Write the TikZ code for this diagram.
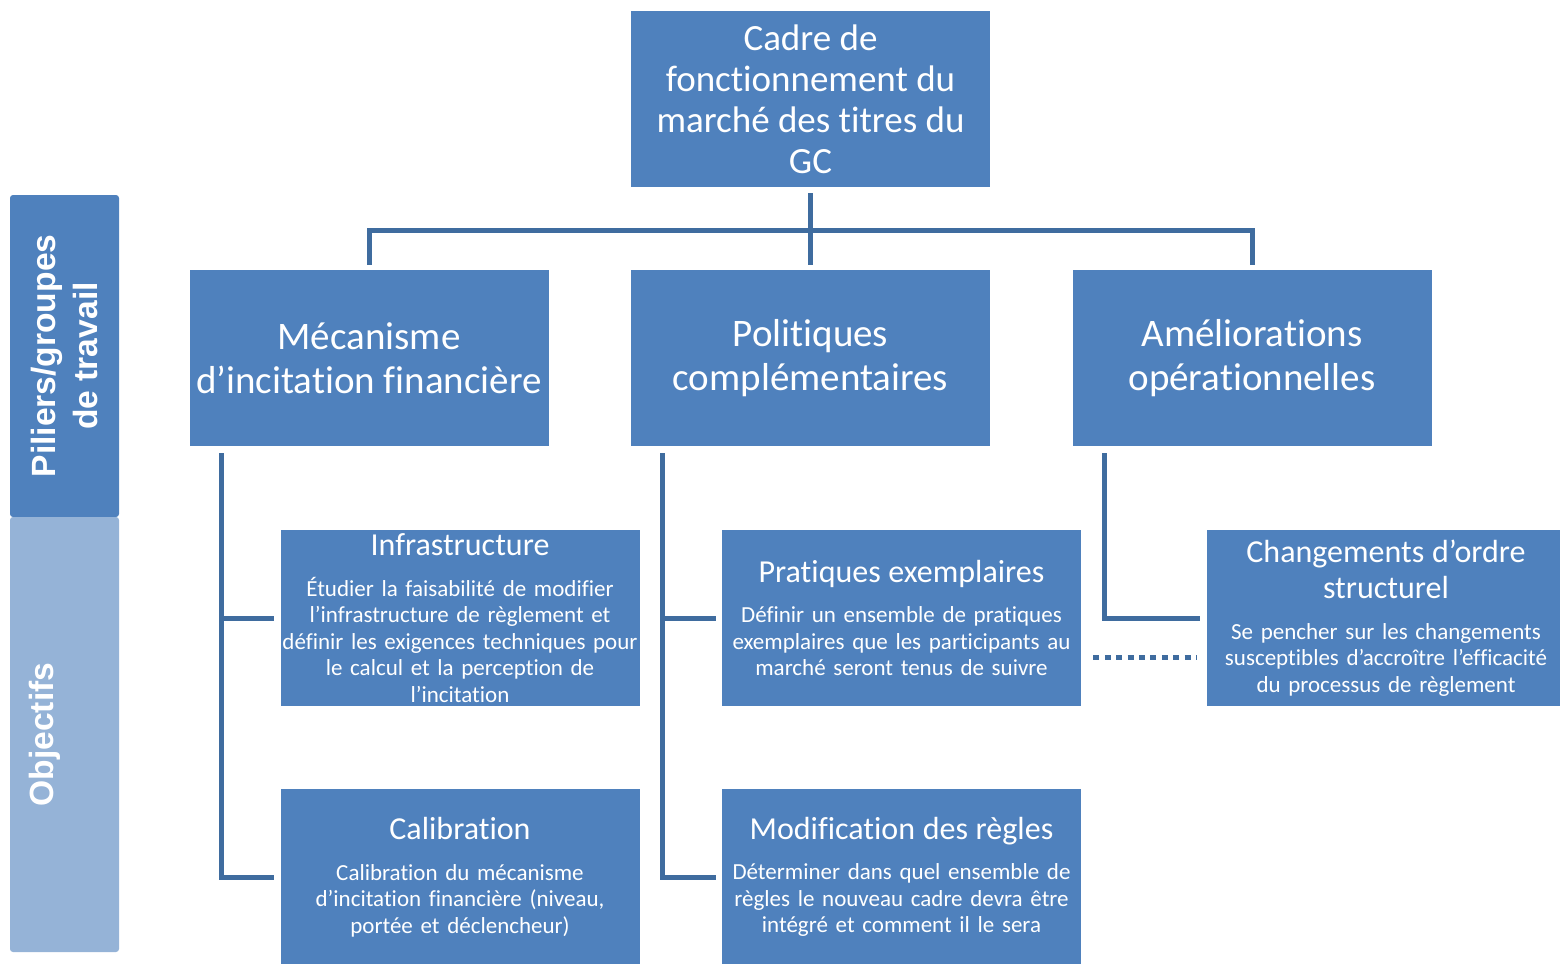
\documentclass[tikz,border=0pt]{standalone}
\usepackage{fontspec}
\setmainfont[Ligatures=NoCommon]{Carlito}
\newfontfamily\sidefont{Liberation Sans}
\usepackage{tikz}
\usetikzlibrary{positioning, calc}

\definecolor{boxblue}{HTML}{4F81BD}
\definecolor{linkblue}{HTML}{3F6C9F}
\definecolor{sidelight}{HTML}{95B3D7}

\tikzset{
  pilier/.style={rectangle, fill=boxblue, text=white, inner sep=0pt,
    minimum width=179.5pt, minimum height=88pt, align=center,
    font=\fontsize{19.5}{22}\selectfont},
  racine/.style={pilier, font=\fontsize{18.5}{20.5}\selectfont},
  objectif/.style={pilier, text width=179.5pt,
    font=\fontsize{11.5}{13.25}\selectfont},
  sidebox/.style={rectangle, rounded corners=1.5pt, inner sep=0pt,
    text=white, align=center,
    font=\sidefont\bfseries\fontsize{16.8}{21}\selectfont},
  conn/.style={draw=linkblue, line width=2.5pt},
  pointille/.style={draw=linkblue, line width=2.5pt, dash pattern=on 3pt off 2.7pt}
}

\newcommand{\objtitre}[1]{{\fontsize{16}{18}\selectfont #1\par}\vspace{7pt}}

\begin{document}
\begin{tikzpicture}[x=0.5pt, y=-0.5pt]
  \useasboundingbox (0,0) rectangle (1560,964);

  % Bandeau de gauche
  \node[sidebox, fill=boxblue, minimum width=161pt, minimum height=54.5pt, rotate=90] (piliers) at (64.5,356) {Piliers/groupes\\de travail};
  \node[sidebox, fill=sidelight, minimum width=54.5pt, minimum height=217.5pt] (objbande) at (64.5,734.5) {};
  \node[sidebox, rotate=90] (objectifs) at ([xshift=-10pt]objbande.center) {Objectifs};

  % Cadre
  \node[racine] (cadre) at (810.5,99) {Cadre de\\fonctionnement du\\marché des titres du\\GC};

  % Piliers
  \node[pilier] (mecanisme) at (369,358) {Mécanisme\\d’incitation financière};
  \node[pilier] (politiques) at (810.5,358) {Politiques\\complémentaires};
  \node[pilier] (ameliorations) at (1252,358) {Améliorations\\opérationnelles};

  % Objectifs
  \node[objectif] (infra) at (460,618) {\objtitre{Infrastructure}
    Étudier la faisabilité de modifier\\l’infrastructure de règlement et\\définir les exigences techniques pour\\le calcul et la perception de\\l’incitation};
  \node[objectif] (calib) at (460,877) {\objtitre{Calibration}
    Calibration du mécanisme\\d’incitation financière (niveau,\\portée et déclencheur)};
  \node[objectif] (pratiques) at (901.5,618) {\objtitre{Pratiques exemplaires}
    Définir un ensemble de pratiques\\exemplaires que les participants au\\marché seront tenus de suivre};
  \node[objectif] (modif) at (901.5,877) {\objtitre{Modification des règles}
    Déterminer dans quel ensemble de\\règles le nouveau cadre devra être\\intégré et comment il le sera};
  \node[objectif] (changements) at (1386,618) {\objtitre{Changements d’ordre\\structurel}
    Se pencher sur les changements\\susceptibles d’accroître l’efficacité\\du processus de règlement};

  % Liens
  \coordinate (bus) at (810.5,230);
  \draw[conn] ([yshift=-3pt]cadre.south) -- (bus);
  \foreach \p in {mecanisme, politiques, ameliorations}
    \draw[conn] (bus) -| ([yshift=2.5pt]\p.north);

  \draw[conn] ([xshift=16pt, yshift=-3.5pt]mecanisme.south west) |- ([xshift=-3pt]infra.west);
  \draw[conn] ([xshift=16pt, yshift=-3.5pt]mecanisme.south west) |- ([xshift=-3pt]calib.west);
  \draw[conn] ([xshift=16pt, yshift=-3.5pt]politiques.south west) |- ([xshift=-3pt]pratiques.west);
  \draw[conn] ([xshift=16pt, yshift=-3.5pt]politiques.south west) |- ([xshift=-3pt]modif.west);
  \draw[conn] ([xshift=16pt, yshift=-3.5pt]ameliorations.south west) |- ([xshift=-3pt]changements.west);

  \draw[pointille] ([xshift=6pt, yshift=-19.5pt]pratiques.east) -- ([xshift=-5pt, yshift=-19.5pt]changements.west);
\end{tikzpicture}
\end{document}
